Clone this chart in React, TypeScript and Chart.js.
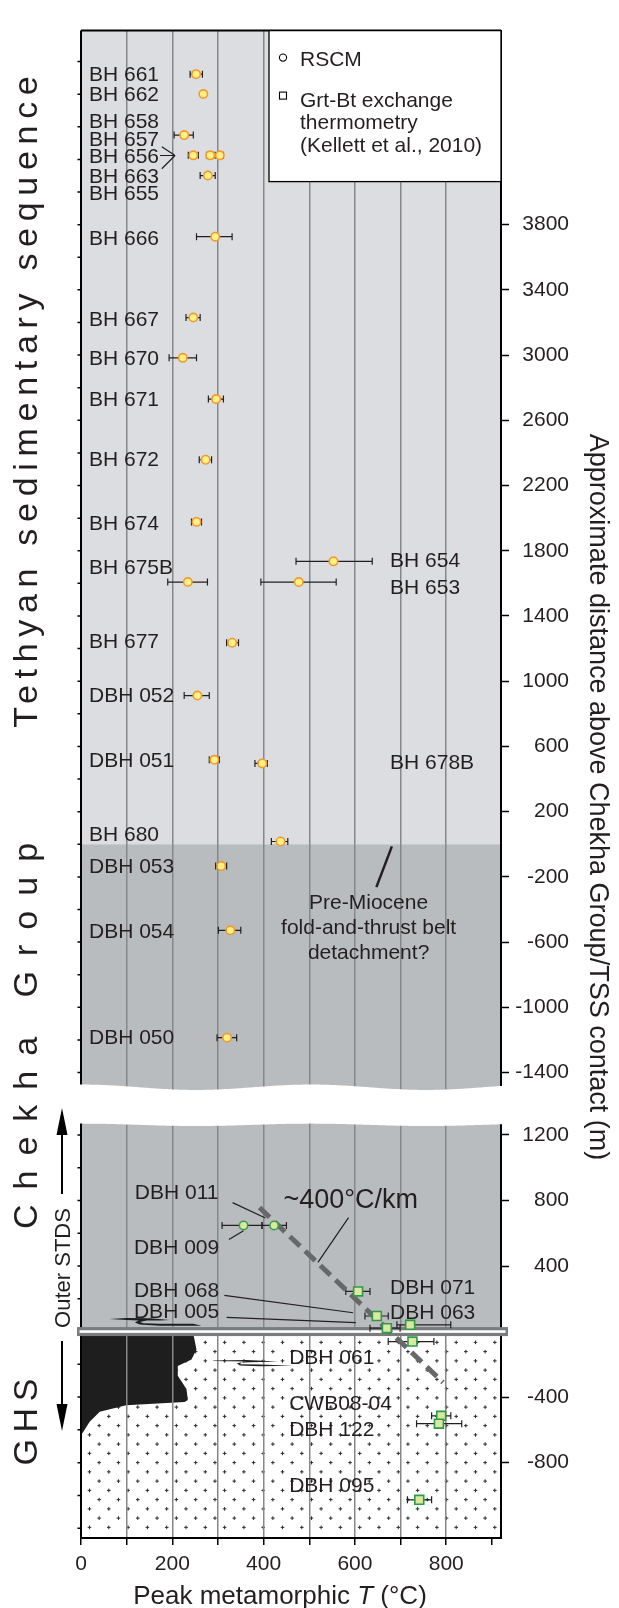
import React, { useEffect, useRef } from 'react';
import { Chart, registerables } from 'chart.js';

Chart.register(...registerables);

const FONT = '"Liberation Sans", Arial, Helvetica, sans-serif';
const INK = '#231f20';

// ---------- data: RSCM, upper panel (Tethyan sedimentary sequence / Chekha Group) ----------
const RSCM_UPPER_SAMPLES = ['BH 661', 'BH 662', 'BH 657', 'BH 658', 'BH 656', 'BH 655', 'BH 663', 'BH 666', 'BH 667', 'BH 670', 'BH 671', 'BH 672', 'BH 674', 'BH 654', 'BH 675B', 'BH 653', 'BH 677', 'DBH 052', 'DBH 051', 'BH 678B', 'BH 680', 'DBH 053', 'DBH 054', 'DBH 050'];
const RSCM_UPPER_T = [252, 268, 226, 246, 283, 304, 278, 294, 246, 223, 296, 273, 253, 553, 234, 477, 331, 255, 292, 397, 437, 307, 327, 320];
const RSCM_UPPER_Z = [4723, 4601, 4349, 4225, 4225, 4225, 4101, 3726, 3230, 2983, 2730, 2358, 1977, 1735, 1608, 1608, 1236, 912, 518, 496, 17, -134, -528, -1186];
const RSCM_UPPER_T_MIN = [239, 265, 204, 235, 275, 294, 261, 253, 230, 193, 279, 259, 242, 471, 190, 394, 319, 226, 281, 381, 417, 295, 301, 298];
const RSCM_UPPER_T_MAX = [266, 271, 246, 257, 290, 312, 294, 331, 261, 253, 312, 286, 264, 638, 277, 559, 345, 281, 303, 408, 453, 319, 350, 341];

// ---------- data: RSCM, lower panel (Outer STDS zone) ----------
const RSCM_LOWER_SAMPLES = ['DBH 009', 'DBH 011'];
const RSCM_LOWER_T = [356, 423];
const RSCM_LOWER_Z = [648, 648];
const RSCM_LOWER_T_MIN = [309, 396];
const RSCM_LOWER_T_MAX = [397, 450];

// ---------- data: Grt-Bt exchange thermometry (Kellett et al., 2010) ----------
const GRTBT_SAMPLES = ['DBH 071', 'DBH 068', 'DBH 005', 'DBH 063', 'DBH 061', 'CWB08-04', 'DBH 122', 'DBH 095'];
const GRTBT_T = [607, 648, 670, 721, 726, 789, 784, 741];
const GRTBT_Z = [245, 95, 21, 41, -61, -514, -562, -1027];
const GRTBT_T_MIN = [580, 622, 633, 692, 673, 768, 735, 715];
const GRTBT_T_MAX = [633, 673, 699, 810, 773, 810, 834, 768];

// ~400 °C/km field gradient
const GRADIENT_T = [391, 793];
const GRADIENT_Z = [757, -310];

// ---------- axes ----------
const X_TICKS = [0, 100, 200, 300, 400, 500, 600, 700, 800, 900];
const UPPER_TICKS = [3800, 3400, 3000, 2600, 2200, 1800, 1400, 1000, 600, 200, -200, -600, -1000, -1400];
const LOWER_TICKS = [1200, 800, 400, -400, -800];

// ---------- annotations (text, T, z) ----------
const UPPER_LABELS: [string, number, number][] = [
  ['BH 661', 17.5, 4725], ['BH 662', 17.5, 4604], ['BH 658', 17.5, 4441], ['BH 657', 17.5, 4326],
  ['BH 656', 17.5, 4224], ['BH 663', 17.5, 4103], ['BH 655', 17.5, 4000], ['BH 666', 17.5, 3722],
  ['BH 667', 17.5, 3227], ['BH 670', 17.5, 2985], ['BH 671', 17.5, 2731], ['BH 672', 17.5, 2363],
  ['BH 674', 17.5, 1976], ['BH 675B', 17.5, 1704], ['BH 677', 17.5, 1251], ['DBH 052', 17.5, 918],
  ['DBH 051', 17.5, 520], ['BH 680', 17.5, 66], ['DBH 053', 17.5, -133], ['DBH 054', 17.5, -530],
  ['DBH 050', 17.5, -1178], ['BH 654', 677, 1746], ['BH 653', 677, 1583], ['BH 678B', 677, 508],
];
const LOWER_LABELS: [string, number, number][] = [
  ['DBH 011', 118, 853], ['DBH 009', 116, 522], ['DBH 068', 116, 256], ['DBH 005', 116, 131],
  ['DBH 071', 677, 275], ['DBH 063', 677, 121], ['DBH 061', 456, -149], ['CWB08-04', 456, -430],
  ['DBH 122', 456, -591], ['DBH 095', 456, -935],
];
const DETACHMENT_LINES = ['Pre-Miocene', 'fold-and-thrust belt', 'detachment?'];
const DETACHMENT_T = 630;
const DETACHMENT_Z = [-349, -503, -657];

const UPPER_LEADERS = [
  [177, 4278, 206, 4224], [173, 4224, 206, 4224], [177, 4143, 206, 4224],
];
const DETACHMENT_LEADER = [681, -13, 647, -263];
const LOWER_LEADERS = [
  [332, 787, 404, 693], [324, 562, 356, 616], [314, 221, 596, 115], [319, 87, 602, 55], [586, 696, 519, 422],
];

// GHS leucogranite body & lenses (T, z) on lower axis
const GHS_BODY = [[0, 0], [245, 0], [253, -110], [242, -170], [212, -210], [212, -270], [231, -350], [234, -418], [227, -430], [99, -450], [41, -490], [19, -550], [1, -630], [0, -630]];
const LENS_UPPER = [[62, 77], [100, 83], [151, 81], [195, 71], [173, 67], [144, 67], [129, 59], [137, 51], [173, 47], [246, 47], [264, 35], [173, 35], [129, 43], [118, 55], [126, 67], [100, 71]];
const LENS_LOWER = [[290, -176], [363, -173], [432, -182], [392, -185], [352, -189], [348, -200], [392, -201], [465, -209], [392, -212], [348, -207], [341, -194], [363, -183], [290, -179]];

function drawText(ctx: any, s: string, x: number, yc: number, size: number, align = 'left', style = '') {
  ctx.font = `${style} ${size}px ${FONT}`;
  ctx.textAlign = align;
  ctx.textBaseline = 'alphabetic';
  ctx.fillText(s, x, yc + size * 0.358);
}

function drawRotText(ctx: any, s: string, cx: number, cy: number, size: number, angle: number, spacing: number) {
  ctx.save();
  ctx.translate(cx, cy);
  ctx.rotate(angle);
  ctx.font = `${size}px ${FONT}`;
  ctx.letterSpacing = `${spacing}px`;
  const w = ctx.measureText(s).width - spacing;
  ctx.textAlign = 'left';
  ctx.textBaseline = 'alphabetic';
  ctx.fillStyle = INK;
  ctx.fillText(s, -w / 2, size * 0.358);
  ctx.letterSpacing = '0px';
  ctx.restore();
}

function poly(ctx: any, xs: any, ys: any, pts: number[][]) {
  ctx.beginPath();
  pts.forEach(([t, z], i) => {
    const px = xs.getPixelForValue(t);
    const py = ys.getPixelForValue(z);
    if (i === 0) ctx.moveTo(px, py); else ctx.lineTo(px, py);
  });
  ctx.closePath();
}

function errorBars(ctx: any, xs: any, ys: any, z: number[], lo: number[], hi: number[]) {
  ctx.beginPath();
  for (let i = 0; i < z.length; i++) {
    const py = ys.getPixelForValue(z[i]);
    const a = xs.getPixelForValue(lo[i]);
    const b = xs.getPixelForValue(hi[i]);
    ctx.moveTo(a, py); ctx.lineTo(b, py);
    ctx.moveTo(a, py - 3.5); ctx.lineTo(a, py + 3.5);
    ctx.moveTo(b, py - 3.5); ctx.lineTo(b, py + 3.5);
  }
  ctx.stroke();
}

const decor = {
  id: 'decor',
  beforeDraw(chart: any) {
    const { ctx, chartArea: ca, scales } = chart;
    const xs = scales.x, yu = scales.y, yl = scales.y2;
    ctx.save();
    const z0u = yu.getPixelForValue(0);
    ctx.fillStyle = '#dcdde0';
    ctx.fillRect(ca.left, yu.top, ca.width, z0u - yu.top);
    ctx.fillStyle = '#b9bcbf';
    ctx.fillRect(ca.left, z0u, ca.width, yu.bottom - z0u);
    const z0l = yl.getPixelForValue(0);
    ctx.fillStyle = '#b9bcbf';
    ctx.fillRect(ca.left, yl.top, ca.width, z0l - yl.top);
    ctx.fillStyle = '#ffffff';
    ctx.fillRect(ca.left, z0l, ca.width, yl.bottom - z0l);
    // "+" pattern of the GHS
    ctx.strokeStyle = '#2a2a2a';
    ctx.lineWidth = 1;
    ctx.beginPath();
    for (let r = 0; ; r++) {
      const py = z0l + 10.8 + r * 9.25;
      if (py > yl.bottom - 3) break;
      for (let px = ca.left + 8.5 + (r % 2) * 9.65; px < ca.right - 3; px += 19.3) {
        ctx.moveTo(px - 1.8, py); ctx.lineTo(px + 1.8, py);
        ctx.moveTo(px, py - 1.8); ctx.lineTo(px, py + 1.8);
      }
    }
    ctx.stroke();
    // leucogranite body
    ctx.fillStyle = '#1e1e1e';
    poly(ctx, xs, yl, GHS_BODY);
    ctx.fill();
    ctx.restore();
  },
  beforeDatasetsDraw(chart: any) {
    const { ctx, chartArea: ca, scales } = chart;
    const xs = scales.x, yu = scales.y, yl = scales.y2;
    ctx.save();
    // frame: top + left
    ctx.strokeStyle = '#000';
    ctx.lineWidth = 2;
    ctx.beginPath();
    ctx.moveTo(ca.left, ca.top); ctx.lineTo(ca.right, ca.top);
    ctx.moveTo(ca.left, ca.top); ctx.lineTo(ca.left, ca.bottom);
    ctx.stroke();
    // left minor ticks
    ctx.lineWidth = 1.5;
    ctx.beginPath();
    for (let v = -1400; v <= 4800; v += 200) {
      const py = yu.getPixelForValue(v);
      ctx.moveTo(ca.left - 3.5, py); ctx.lineTo(ca.left, py);
    }
    for (let v = -1200; v <= 1200; v += 200) {
      const py = yl.getPixelForValue(v);
      ctx.moveTo(ca.left - 3.5, py); ctx.lineTo(ca.left, py);
    }
    ctx.stroke();
    // break between the panels
    const topBase = yu.getPixelForValue(-1490);
    const botBase = yl.getPixelForValue(1262);
    const x0 = ca.left - 10, x1 = ca.right + 10;
    ctx.fillStyle = '#ffffff';
    ctx.beginPath();
    for (let px = x0; px <= x1; px += 2) {
      const py = topBase - 2.7 * Math.cos((2 * Math.PI * (px - ca.left)) / 230);
      if (px === x0) ctx.moveTo(px, py); else ctx.lineTo(px, py);
    }
    for (let px = x1; px >= x0; px -= 2) {
      const py = botBase - 1.2 * Math.cos((2 * Math.PI * (px - ca.left)) / 230);
      ctx.lineTo(px, py);
    }
    ctx.closePath();
    ctx.fill();
    // lenses
    ctx.fillStyle = '#1e1e1e';
    poly(ctx, xs, yl, LENS_UPPER); ctx.fill();
    poly(ctx, xs, yl, LENS_LOWER); ctx.fill();
    // Outer STDS
    const z0l = yl.getPixelForValue(0);
    ctx.fillStyle = '#7b7c7e';
    ctx.fillRect(ca.left - 4, z0l - 4.5, ca.width + 11, 9);
    ctx.fillStyle = '#ffffff';
    ctx.fillRect(ca.left - 1.5, z0l - 1.3, ca.width + 6, 2.6);
    // leader lines
    ctx.strokeStyle = INK;
    ctx.lineWidth = 1.2;
    ctx.beginPath();
    UPPER_LEADERS.forEach(([a, b, c, d]) => {
      ctx.moveTo(xs.getPixelForValue(a), yu.getPixelForValue(b));
      ctx.lineTo(xs.getPixelForValue(c), yu.getPixelForValue(d));
    });
    LOWER_LEADERS.forEach(([a, b, c, d]) => {
      ctx.moveTo(xs.getPixelForValue(a), yl.getPixelForValue(b));
      ctx.lineTo(xs.getPixelForValue(c), yl.getPixelForValue(d));
    });
    ctx.stroke();
    ctx.lineWidth = 2.5;
    ctx.beginPath();
    ctx.moveTo(xs.getPixelForValue(DETACHMENT_LEADER[0]), yu.getPixelForValue(DETACHMENT_LEADER[1]));
    ctx.lineTo(xs.getPixelForValue(DETACHMENT_LEADER[2]), yu.getPixelForValue(DETACHMENT_LEADER[3]));
    ctx.stroke();
    // error bars
    ctx.lineWidth = 1.2;
    errorBars(ctx, xs, yu, RSCM_UPPER_Z, RSCM_UPPER_T_MIN, RSCM_UPPER_T_MAX);
    errorBars(ctx, xs, yl, RSCM_LOWER_Z, RSCM_LOWER_T_MIN, RSCM_LOWER_T_MAX);
    errorBars(ctx, xs, yl, GRTBT_Z, GRTBT_T_MIN, GRTBT_T_MAX);
    ctx.restore();
  },
  afterDatasetsDraw(chart: any) {
    const { ctx, chartArea: ca, scales } = chart;
    const xs = scales.x, yu = scales.y, yl = scales.y2;
    ctx.save();
    // legend box
    const lx = ca.right - 232, ly = ca.top, lh = 151;
    ctx.fillStyle = '#ffffff';
    ctx.fillRect(lx, ly, ca.right - lx, lh);
    ctx.strokeStyle = '#000';
    ctx.lineWidth = 1.3;
    ctx.strokeRect(lx, ly, ca.right - lx, lh);
    ctx.lineWidth = 1.1;
    ctx.beginPath();
    ctx.arc(lx + 14, ly + 27, 3.6, 0, Math.PI * 2);
    ctx.stroke();
    ctx.strokeRect(lx + 10.5, ly + 61.5, 7, 7);
    ctx.fillStyle = INK;
    drawText(ctx, 'RSCM', lx + 31, ly + 28, 21);
    drawText(ctx, 'Grt-Bt exchange', lx + 31, ly + 68.5, 21);
    drawText(ctx, 'thermometry', lx + 31, ly + 91, 21);
    drawText(ctx, '(Kellett et al., 2010)', lx + 31, ly + 114, 21);
    // sample labels
    UPPER_LABELS.forEach(([s, t, z]) => drawText(ctx, s, xs.getPixelForValue(t), yu.getPixelForValue(z), 21));
    LOWER_LABELS.forEach(([s, t, z]) => drawText(ctx, s, xs.getPixelForValue(t), yl.getPixelForValue(z), 21));
    DETACHMENT_LINES.forEach((s, i) => drawText(ctx, s, xs.getPixelForValue(DETACHMENT_T), yu.getPixelForValue(DETACHMENT_Z[i]), 21, 'center'));
    drawText(ctx, '~400°C/km', xs.getPixelForValue(591), yl.getPixelForValue(813), 27, 'center');
    // x title with italic T
    const ty = ca.bottom + 57;
    const p1 = 'Peak metamorphic ', p2 = 'T', p3 = ' (°C)';
    ctx.font = `26px ${FONT}`;
    const w1 = ctx.measureText(p1).width, w3 = ctx.measureText(p3).width;
    ctx.font = `italic 26px ${FONT}`;
    const w2 = ctx.measureText(p2).width;
    let sx = 280 - (w1 + w2 + w3) / 2;
    drawText(ctx, p1, sx, ty, 26); sx += w1;
    drawText(ctx, p2, sx, ty, 26, 'left', 'italic'); sx += w2;
    drawText(ctx, p3, sx, ty, 26);
    // right title
    drawRotText(ctx, 'Approximate distance above Chekha Group/TSS contact (m)', 600, 797, 27, Math.PI / 2, 0);
    // left unit labels
    drawRotText(ctx, 'Tethyan sedimentary sequence', 25, 402, 34, -Math.PI / 2, 6.7);
    drawRotText(ctx, 'Chekha Group', 25, 1036, 34, -Math.PI / 2, 15);
    drawRotText(ctx, 'GHS', 25, 1422, 34, -Math.PI / 2, 6.7);
    drawRotText(ctx, 'Outer STDS', 62, 1268, 22, -Math.PI / 2, 0);
    // arrows
    ctx.strokeStyle = '#000';
    ctx.fillStyle = '#000';
    ctx.lineWidth = 2;
    ctx.beginPath();
    ctx.moveTo(62, 1194); ctx.lineTo(62, 1130);
    ctx.moveTo(62, 1341); ctx.lineTo(62, 1408);
    ctx.stroke();
    ctx.beginPath();
    ctx.moveTo(62, 1108); ctx.lineTo(56.5, 1135); ctx.lineTo(67.5, 1135); ctx.closePath();
    ctx.moveTo(62, 1431); ctx.lineTo(56.5, 1404); ctx.lineTo(67.5, 1404); ctx.closePath();
    ctx.fill();
    ctx.restore();
  },
};

export default function App() {
  const ref = useRef<HTMLCanvasElement>(null);
  useEffect(() => {
    const tickFont = { family: FONT, size: 21 };
    const chart = new Chart(ref.current as HTMLCanvasElement, {
      type: 'scatter',
      data: {
        datasets: [
          {
            label: 'gradient',
            data: GRADIENT_T.map((t, i) => ({ x: t, y: GRADIENT_Z[i] })),
            yAxisID: 'y2',
            showLine: true,
            borderColor: '#67686a',
            borderWidth: 5,
            borderDash: [14, 7],
            pointRadius: 0,
            order: 10,
          },
          {
            label: 'RSCM upper',
            data: RSCM_UPPER_T.map((t, i) => ({ x: t, y: RSCM_UPPER_Z[i] })),
            yAxisID: 'y',
            pointStyle: 'circle',
            pointRadius: 4.2,
            backgroundColor: '#fff184',
            borderColor: '#f39a2e',
            borderWidth: 1.6,
            order: 1,
          },
          {
            label: 'RSCM lower',
            data: RSCM_LOWER_T.map((t, i) => ({ x: t, y: RSCM_LOWER_Z[i] })),
            yAxisID: 'y2',
            pointStyle: 'circle',
            pointRadius: 4.2,
            backgroundColor: '#d8eba0',
            borderColor: '#3b9f48',
            borderWidth: 1.6,
            order: 1,
          },
          {
            label: 'Grt-Bt',
            data: GRTBT_T.map((t, i) => ({ x: t, y: GRTBT_Z[i] })),
            yAxisID: 'y2',
            pointStyle: 'rect',
            pointRadius: 6.3,
            backgroundColor: '#dae8a2',
            borderColor: '#2e9a46',
            borderWidth: 1.6,
            order: 1,
          },
        ],
      },
      options: {
        responsive: false,
        animation: false,
        devicePixelRatio: 1,
        events: [],
        layout: { padding: { left: 81, top: 8, right: 50, bottom: 0 } },
        plugins: { legend: { display: false }, tooltip: { enabled: false } },
        scales: {
          x: {
            type: 'linear',
            position: 'bottom',
            min: 0,
            max: 920,
            afterBuildTicks: (s: any) => { s.ticks = X_TICKS.map((v) => ({ value: v })); },
            afterFit: (s: any) => { s.height = 70; },
            ticks: {
              autoSkip: false,
              maxRotation: 0,
              padding: 7,
              color: INK,
              font: tickFont,
              callback: (v: any) => (v % 200 === 0 && v <= 800 ? String(v) : ''),
            },
            grid: {
              color: (c: any) => (c.tick && c.tick.value > 0 && c.tick.value < 900 ? '#868789' : 'rgba(0,0,0,0)'),
              lineWidth: 1.5,
              tickColor: '#000',
              tickLength: 7,
              tickWidth: 1.5,
            },
            border: { color: '#000', width: 2 },
          },
          y: {
            type: 'linear',
            position: 'right',
            stack: 'depth',
            stackWeight: 1092,
            min: -1608,
            max: 4990,
            afterBuildTicks: (s: any) => { s.ticks = UPPER_TICKS.map((v) => ({ value: v })); },
            afterFit: (s: any) => { s.width = 68; },
            ticks: { crossAlign: 'far', padding: 6, color: INK, font: tickFont, autoSkip: false, callback: (v: any) => String(v) },
            grid: { drawOnChartArea: false, tickLength: 8, tickColor: '#000', tickWidth: 1.5 },
            border: { color: '#000', width: 2 },
          },
          y2: {
            type: 'linear',
            position: 'right',
            stack: 'depth',
            stackWeight: 438,
            min: -1260,
            max: 1374,
            afterBuildTicks: (s: any) => { s.ticks = LOWER_TICKS.map((v) => ({ value: v })); },
            afterFit: (s: any) => { s.width = 68; },
            ticks: { crossAlign: 'far', padding: 18, color: INK, font: tickFont, autoSkip: false, callback: (v: any) => String(v) },
            grid: { drawOnChartArea: false, tickLength: 8, tickColor: '#000', tickWidth: 1.5 },
            border: { color: '#000', width: 2 },
          },
        },
      } as any,
      plugins: [decor],
    });
    return () => chart.destroy();
  }, []);
  return (
    <div style={{ position: 'absolute', left: 0, top: 0, width: 619, height: 1608, background: '#ffffff' }}>
      <canvas ref={ref} width={619} height={1608} style={{ display: 'block', width: 619, height: 1608 }} />
    </div>
  );
}
